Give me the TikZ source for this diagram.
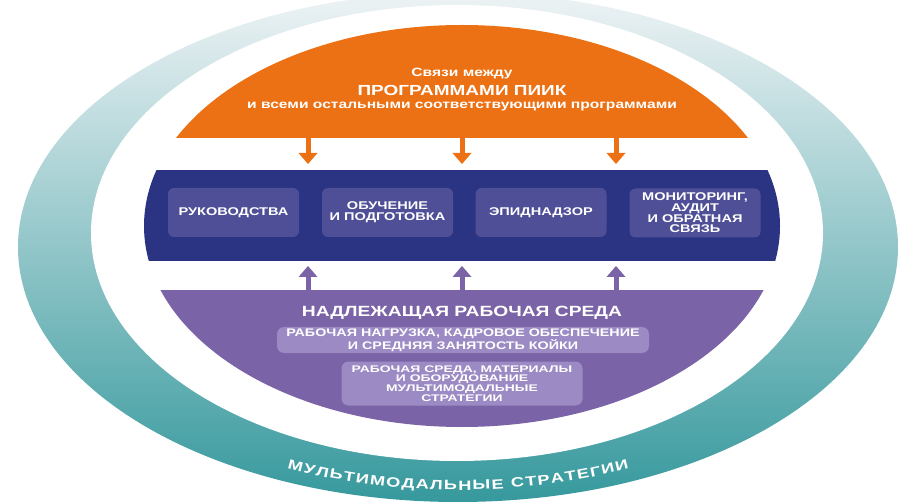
\documentclass[tikz,border=0pt]{standalone}
\usepackage{fontspec}
\setmainfont{Liberation Sans}
\newfontfamily\widesans{Liberation Sans}[FakeStretch=1.3]
\newfontfamily\widersans{Liberation Sans}[FakeStretch=1.45]
\newfontfamily\ringsans{Liberation Sans}[FakeStretch=1.35]
\usetikzlibrary{arrows.meta,decorations.text,calc}

\definecolor{ringtop}{HTML}{EEF3F5}
\definecolor{ringmid}{HTML}{A6C7CC}
\definecolor{ringbot}{HTML}{36999D}
\definecolor{orangec}{HTML}{EC7114}
\definecolor{navyc}{HTML}{2A3482}
\definecolor{navybox}{HTML}{4F4F97}
\definecolor{purplec}{HTML}{7A63A6}
\definecolor{lilacbox}{HTML}{9C8AC4}

\begin{document}
\begin{tikzpicture}[x=1pt,y=-1pt,
  wtext/.style={text=white, inner sep=0pt, align=center, anchor=base},
  navytile/.style={fill=navybox, rounded corners=6pt, text=white, align=center,
    inner sep=0pt, minimum width=131pt, minimum height=49pt,
    font=\widesans\bfseries\fontsize{11.2}{10.6}\selectfont},
  lilactile/.style={fill=lilacbox, rounded corners=7pt, text=white, align=center,
    inner sep=0pt, font=\widersans\bfseries\fontsize{9.6}{8.6}\selectfont},
  downarrow/.style={draw=orangec, line width=5pt,
    -{Triangle[width=19pt,length=11pt,line width=0pt]}},
  uparrow/.style={draw=purplec, line width=5pt,
    -{Triangle[width=19pt,length=11pt,line width=0pt]}}]
\useasboundingbox (0,0) rectangle (899,502);

% outer ring with vertical gradient
\shade[top color=ringtop, middle color=ringmid, bottom color=ringbot]
  (458,247) ellipse[x radius=440, y radius=255];
\fill[white] (457,233) ellipse[x radius=366, y radius=228];

% inner disc cut into three bands
\begin{scope}
  \clip (462,226) ellipse[x radius=318, y radius=201];
  \fill[orangec] (100,0) rectangle (820,138);
  \fill[navyc] (100,170) rectangle (820,261);
  \fill[purplec] (100,290) rectangle (820,440);
\end{scope}

% top band texts
\node[wtext, font=\widesans\bfseries\fontsize{12}{12}\selectfont] (top1) at (462,77) {Связи между};
\node[wtext, font=\widesans\bfseries\fontsize{14.6}{14.6}\selectfont] (top2) at (462,95.5) {ПРОГРАММАМИ ПИИК};
\node[wtext, font=\widesans\bfseries\fontsize{12}{12}\selectfont] (top3) at (462,108.5) {и всеми остальными соответствующими программами};

% middle band tiles
\node[navytile] (g1) at (233.5,212.5) {РУКОВОДСТВА};
\node[navytile] (g2) at (387.5,212.5) {ОБУЧЕНИЕ\\И ПОДГОТОВКА};
\node[navytile] (g3) at (541,212.5) {ЭПИДНАДЗОР};
\node[navytile] (g4) at (695,213) {МОНИТОРИНГ,\\АУДИТ\\И ОБРАТНАЯ\\СВЯЗЬ};

% bottom band texts
\node[wtext, font=\widesans\bfseries\fontsize{14.8}{14.8}\selectfont] (env) at (462,316.5) {НАДЛЕЖАЩАЯ РАБОЧАЯ СРЕДА};
\node[lilactile, minimum width=372pt, minimum height=26pt, font=\widesans\bfseries\fontsize{11}{10}\selectfont] (s1) at (463,340)
  {РАБОЧАЯ НАГРУЗКА, КАДРОВОЕ ОБЕСПЕЧЕНИЕ\\И СРЕДНЯЯ ЗАНЯТОСТЬ КОЙКИ};
\node[lilactile, minimum width=241pt, minimum height=44pt] (s2) at (462,383.5)
  {РАБОЧАЯ СРЕДА, МАТЕРИАЛЫ\\И ОБОРУДОВАНИЕ\\МУЛЬТИМОДАЛЬНЫЕ\\СТРАТЕГИИ};

% arrows between the bands
\foreach \i/\x in {1/308,2/462,3/616}{
  \coordinate (os\i) at (\x,138);
  \coordinate (oe\i) at (\x,164);
  \coordinate (ps\i) at (\x,290);
  \coordinate (pe\i) at (\x,266);
  \draw[downarrow] (os\i) -- (oe\i);
  \draw[uparrow] (ps\i) -- (pe\i);
}

% curved caption on the ring
\path[decorate, decoration={text along path, text align=fit to path,
    text={|\ringsans\bfseries\fontsize{13.5}{13.5}\selectfont\color{white}|МУЛЬТИМОДАЛЬНЫЕ СТРАТЕГИИ}}]
  ($(458,240)+(114:420 and 250)$) arc[start angle=114, end angle=66, x radius=420, y radius=250];
\end{tikzpicture}
\end{document}
